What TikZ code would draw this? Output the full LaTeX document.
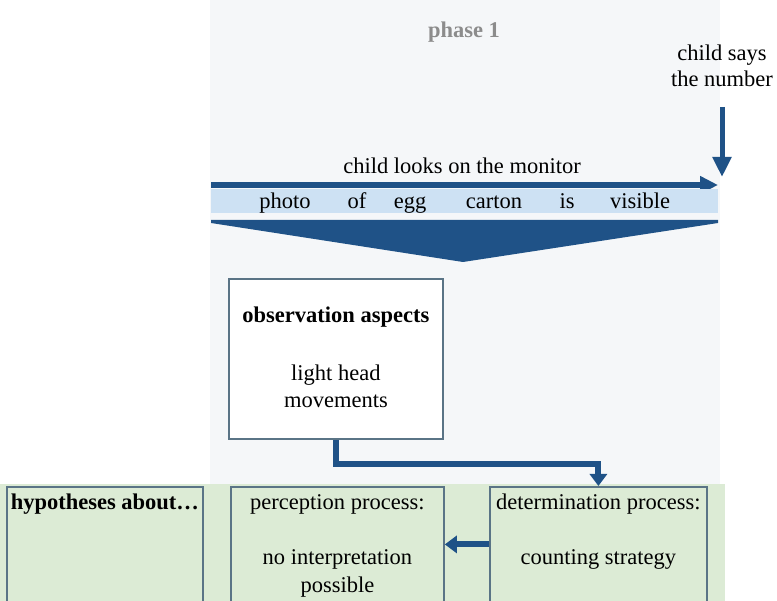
\documentclass[tikz,border=0pt]{standalone}
\usepackage{fontspec}
\setmainfont{Liberation Serif}
\usetikzlibrary{positioning,arrows.meta}

\definecolor{flowblue}{HTML}{1F5287}
\definecolor{bandblue}{HTML}{CDE1F3}
\definecolor{hypgreen}{HTML}{DCEBD5}
\definecolor{frame}{HTML}{5A7486}
\definecolor{panel}{HTML}{F5F7F9}
\definecolor{phasegray}{HTML}{8C8C8C}

\begin{document}
\begin{tikzpicture}[
		x=1pt, y=-1pt
		,lbl/.style={font=\fontsize{22.5}{26}\selectfont, inner sep=0pt, anchor=base}
		,bold/.style={lbl, font=\fontsize{22.5}{26}\selectfont\bfseries}
		,box/.style={draw=frame, line width=1.8pt, inner sep=0pt, anchor=north west}
		,flow/.style={draw=flowblue, line width=6pt, -{Triangle[length=18pt, width=17pt]}}
		,link/.style={draw=flowblue, line width=6pt, -{Triangle[length=12pt, width=17pt]}}
	]
		\useasboundingbox (0,0) rectangle (777,601);

		% background areas
		\fill[panel] (210,0) rectangle (720,484);
		\fill[hypgreen] (0,484) rectangle (725,601);

		% phase 1 timeline
		\node[bold, text=phasegray] (phase) at (464,38) {phase 1};
		\node[lbl] (says) at (722,61) {child says};
		\node[lbl] (number) at (722,87) {the number};
		\coordinate (saytop) at (722,107);
		\coordinate (saytip) at (722,177);
		\draw[flow, -{Triangle[length=20pt, width=18pt]}, line width=5pt] (saytop) -- (saytip);

		\node[lbl] (looks) at (462,174) {child looks on the monitor};
		\coordinate (lookstart) at (211,185);
		\coordinate (lookend) at (718,185);
		\draw[flow] (lookstart) -- (lookend);

		\node[fill=bandblue, minimum width=507pt, minimum height=24pt, inner sep=0pt, anchor=north west] (band) at (211,189) {};
		\node[lbl] (w1) at (285,209) {photo};
		\node[lbl] (w2) at (357,209) {of};
		\node[lbl] (w3) at (410,209) {egg};
		\node[lbl] (w4) at (494,209) {carton};
		\node[lbl] (w5) at (567,209) {is};
		\node[lbl] (w6) at (640,209) {visible};

		\fill[flowblue] (211,220) -- (718,220) -- (718,223) -- (463,262) -- (211,223) -- cycle;

		% observation
		\node[box, fill=white, minimum width=214pt, minimum height=160pt] (obs) at (228,278) {};
		\node[bold] (obstitle) at ([yshift=-45pt]obs.north) {observation aspects};
		\node[lbl] (obs1) at ([yshift=-103pt]obs.north) {light head};
		\node[lbl] (obs2) at ([yshift=-130pt]obs.north) {movements};

		% hypotheses
		\node[box, minimum width=196pt, minimum height=115pt] (hyp) at (6,486) {};
		\node[bold] (hyptitle) at ([yshift=-24pt]hyp.north) {hypotheses about…};

		\node[box, minimum width=213pt, minimum height=115pt] (perc) at (230,486) {};
		\node[lbl] (perctitle) at ([yshift=-24pt]perc.north) {perception process:};
		\node[lbl] (perc1) at ([yshift=-79pt]perc.north) {no interpretation};
		\node[lbl] (perc2) at ([yshift=-106pt]perc.north) {possible};

		\node[box, minimum width=217pt, minimum height=115pt] (det) at (489,486) {};
		\node[lbl] (dettitle) at ([yshift=-24pt]det.north) {determination process:};
		\node[lbl] (det1) at ([yshift=-79pt]det.north) {counting strategy};

		% connectors
		\draw[link] (obs.south) -- ++(0,24) -| (det.north);
		\draw[link] (det.west) -- (perc.east);
	\end{tikzpicture}
\end{document}
